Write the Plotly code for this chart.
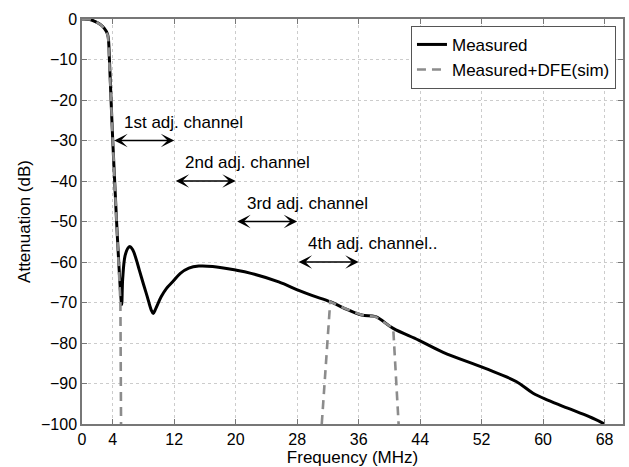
import plotly.graph_objects as go

# Measured attenuation curve
freq_measured = [0, 1, 1.8, 2.5, 2.9, 3.2, 3.4, 3.57, 3.78, 4.0, 4.25, 4.5, 4.78, 5.0, 5.16,
                 5.3, 5.6, 6.0, 6.25, 6.6, 7.0, 7.46, 8.0, 8.5, 9.0, 9.27, 9.6, 10.3, 11.0,
                 11.8, 12.8, 13.9, 15.2, 17, 20, 22, 25.6, 28.2, 30, 32.3, 34, 36.4, 38.2,
                 40.5, 43.8, 47, 52.4, 56.5, 58.7, 60.6, 63.2, 66, 68]
att_measured = [0, -0.1, -0.7, -1.5, -2.3, -3.2, -4.4, -10, -20, -30, -40, -50, -60, -67, -70.5,
                -64, -58.5, -56.5, -56.2, -57, -59, -62, -65.5, -68.6, -71.8, -72.7, -71.5, -68.6, -66.5,
                -64.9, -62.8, -61.5, -61.0, -61.1, -62, -62.8, -64.9, -67, -68.3, -69.8, -71.3, -73.1, -73.5,
                -76.4, -79.3, -82.3, -86.2, -89.5, -92.4, -94.1, -96.1, -98.2, -100]

# Measured + DFE (sim)
freq_dfe = [0, 1, 1.8, 2.5, 2.9, 3.2, 3.4, 3.57, 3.78, 4.0, 4.25, 4.5, 4.78, 5.0, 5.08,
            None, 31.2, 32.3, 34, 36.4, 38.2, 40.5, 41.2]
att_dfe = [0, -0.1, -0.7, -1.5, -2.3, -3.2, -4.4, -10, -20, -30, -40, -50, -60, -70, -100,
           None, -100, -69.8, -71.3, -73.1, -73.5, -76.4, -100]

# Adjacent channel annotations
channel_labels = ["1st adj. channel", "2nd adj. channel", "3rd adj. channel", "4th adj. channel.."]
channel_start = [4, 12, 20, 28]
channel_end = [12, 20, 28, 36]
channel_level = [-30, -40, -50, -60]

x_tickvals = [0, 4, 12, 20, 28, 36, 44, 52, 60, 68]
y_tickvals = [0, -10, -20, -30, -40, -50, -60, -70, -80, -90, -100]

FONT = "Liberation Sans, Arial, Helvetica, sans-serif"

fig = go.Figure()
fig.add_trace(go.Scatter(x=freq_measured, y=att_measured, mode="lines", name="Measured",
                         line=dict(color="black", width=3), line_shape="spline"))
fig.add_trace(go.Scatter(x=freq_dfe, y=att_dfe, mode="lines", name="Measured+DFE(sim)",
                         line=dict(color="#8c8c8c", width=2.6, dash="9px,6px"),
                         connectgaps=False))

annotations = []
for lab, s, e, lv in zip(channel_labels, channel_start, channel_end, channel_level):
    annotations.append(dict(x=e, y=lv, ax=s, ay=lv, xref="x", yref="y", axref="x", ayref="y",
                            text="", showarrow=True, arrowhead=3, startarrowhead=3,
                            arrowside="end+start", arrowsize=1.4, startarrowsize=1.4,
                            arrowwidth=1.6, arrowcolor="black", standoff=0, startstandoff=0))
    annotations.append(dict(x=s + 1.2, y=lv + 4.5, xref="x", yref="y", text=lab,
                            showarrow=False, xanchor="left", yanchor="middle",
                            font=dict(family=FONT, size=17, color="black")))

axis_common = dict(showline=True, linecolor="#777777", linewidth=1.5, mirror="allticks",
                   ticks="inside", ticklen=5, tickcolor="#777777", tickwidth=1,
                   showgrid=True, gridcolor="#cccccc", griddash="dot", gridwidth=1,
                   zeroline=False, tickfont=dict(family=FONT, size=16, color="black"))

fig.update_layout(
    width=629, height=467,
    margin=dict(l=82, r=4, t=19, b=43),
    paper_bgcolor="white", plot_bgcolor="white",
    font=dict(family=FONT, size=16, color="black"),
    xaxis=dict(range=[0, 70.4], tickvals=x_tickvals,
               title=dict(text="Frequency (MHz)", font=dict(family=FONT, size=17), standoff=1),
               **axis_common),
    yaxis=dict(range=[-100, 0], tickvals=y_tickvals,
               title=dict(text="Attenuation (dB)", font=dict(family=FONT, size=17), standoff=6),
               **axis_common),
    legend=dict(x=0.987, y=0.983, xanchor="right", yanchor="top",
                bgcolor="white", bordercolor="#555555", borderwidth=1,
                font=dict(family=FONT, size=17, color="black"),
                tracegroupgap=0, itemwidth=30),
    showlegend=True,
    annotations=annotations,
)

fig.write_html("out.html")
